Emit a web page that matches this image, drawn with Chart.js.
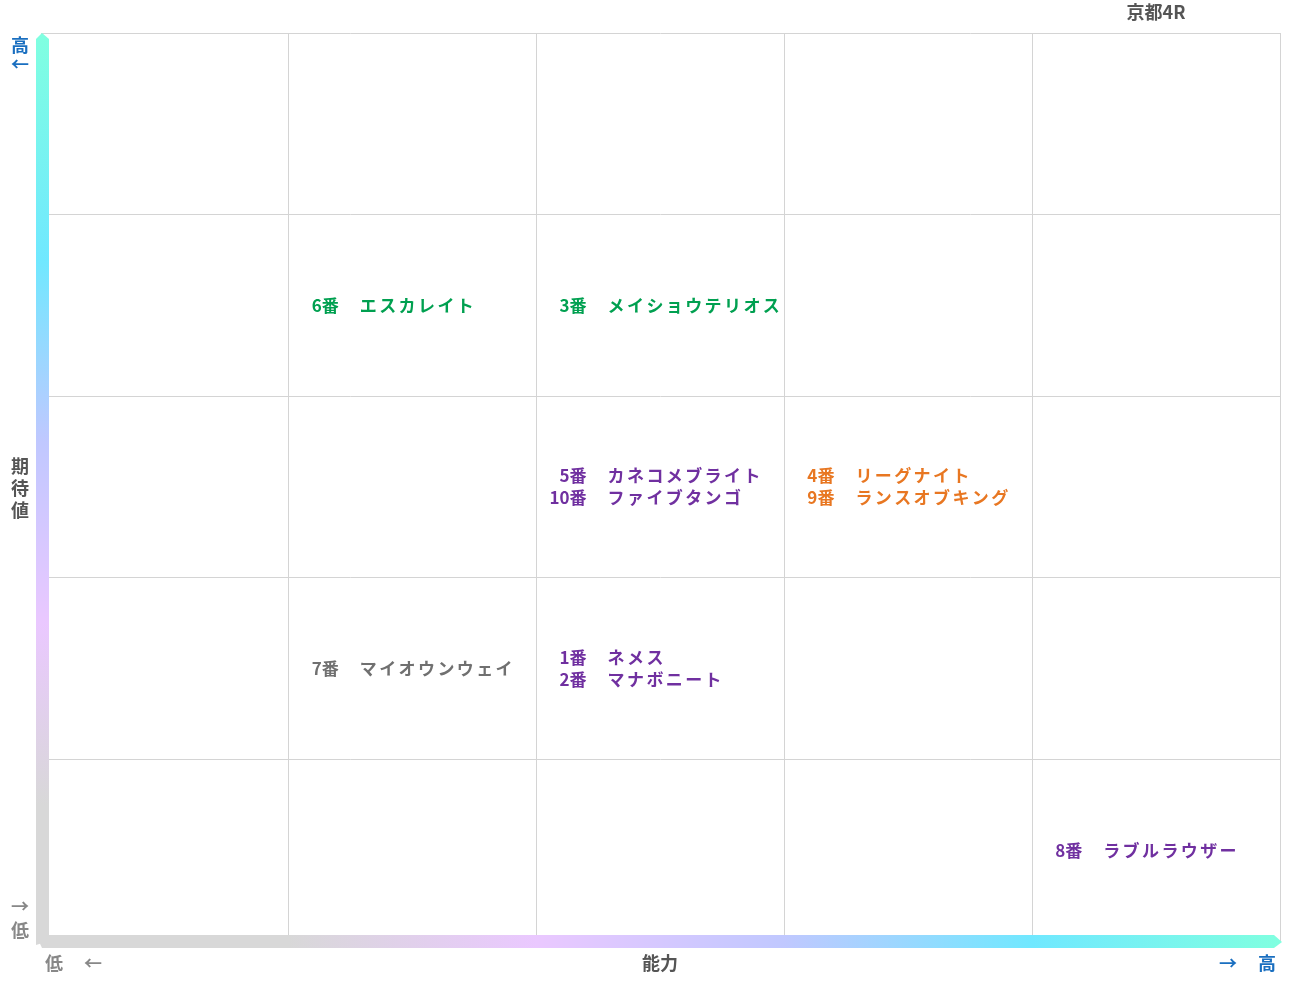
<!DOCTYPE html>
<html><head><meta charset="utf-8">
<script src="https://cdn.jsdelivr.net/npm/chart.js@4"></script>
<style>html,body{margin:0;padding:0;background:#fff}</style>
</head><body>
<canvas id="c" width="1291" height="983"></canvas>
<script>
const horseNums = ['6番','3番','5番','10番','4番','9番','7番','1番','2番','8番'];
const horseNames = ['エスカレイト','メイショウテリオス','カネコメブライト','ファイブタンゴ','リーグナイト','ランスオブキング','マイオウンウェイ','ネメス','マナボニート','ラブルラウザー'];
const abilityCol = [1,2,2,2,3,3,1,2,2,4];
const expectRow = [3,3,2,2,2,2,1,1,1,0];
const labelColors = ['#00a050','#00a050','#7030a0','#7030a0','#e87722','#e87722','#707070','#7030a0','#7030a0','#7030a0'];
const title = '京都4R';

const F = '"Noto Sans CJK JP", sans-serif';
const labelPlugin = {
  id:'labels',
  afterDatasetsDraw(chart){
    const {ctx, chartArea:a, scales:{x,y}} = chart;
    let gv = ctx.createLinearGradient(0,a.top,0,a.bottom);
    gv.addColorStop(0,'#80ffe0');gv.addColorStop(0.25,'#70e8ff');gv.addColorStop(0.45,'#c0c8ff');
    gv.addColorStop(0.65,'#eac8ff');gv.addColorStop(0.85,'#d8d8d8');gv.addColorStop(1,'#d8d8d8');
    ctx.fillStyle=gv;
    ctx.beginPath();ctx.moveTo(36,a.bottom+4);ctx.lineTo(36,a.top+6);ctx.lineTo(42,a.top);ctx.lineTo(49,a.top+6);ctx.lineTo(49,a.bottom);ctx.closePath();ctx.fill();
    let gh = ctx.createLinearGradient(a.left,0,a.right,0);
    gh.addColorStop(0,'#d8d8d8');gh.addColorStop(0.2,'#d8d8d8');gh.addColorStop(0.4,'#eac8ff');
    gh.addColorStop(0.6,'#c0c8ff');gh.addColorStop(0.8,'#70e8ff');gh.addColorStop(1,'#80ffe0');
    ctx.fillStyle=gh;
    ctx.beginPath();ctx.moveTo(36,a.bottom-6);ctx.lineTo(a.right-6,a.bottom-6);ctx.lineTo(a.right+2,a.bottom+1);ctx.lineTo(a.right-6,a.bottom+7);ctx.lineTo(42,a.bottom+7);ctx.closePath();ctx.fill();
    ctx.font='bold 17px '+F; ctx.textBaseline='middle';
    const groups={};
    abilityCol.forEach((c,i)=>{const k=c+'_'+expectRow[i];(groups[k]=groups[k]||[]).push(i);});
    Object.values(groups).forEach(g=>{
      g.forEach((i,j)=>{
        const left=x.getPixelForValue(abilityCol[i]);
        const cy=(y.getPixelForValue(expectRow[i])+y.getPixelForValue(expectRow[i]+1))/2;
        const ty=cy+(j-(g.length-1)/2)*22;
        ctx.fillStyle=labelColors[i];
        ctx.letterSpacing='0px';
        ctx.textAlign='right';ctx.fillText(horseNums[i],left+50,ty);
        ctx.letterSpacing='2.4px';
        ctx.textAlign='left';ctx.fillText(horseNames[i],left+71,ty);
      });
    });
    ctx.letterSpacing='0px';
    ctx.font='bold 18px '+F;ctx.textAlign='center';
    ctx.fillStyle='#1a6fc0';ctx.fillText('高',20,45);ctx.fillText('←',20,64);
    ctx.fillText('→',1228,963);ctx.fillText('高',1267,963);
    ctx.fillStyle='#888';ctx.fillText('低',20,930);ctx.fillText('→',20,906);
    ctx.fillText('低',54,963);ctx.fillText('←',93,963);
    ctx.fillStyle='#555';ctx.fillText('能力',660,963);
    ['期','待','値'].forEach((t,i)=>ctx.fillText(t,20,466+i*22));
    ctx.fillText(title,1156,12);
  }
};
new Chart(document.getElementById('c'),{
  type:'scatter',
  data:{datasets:[{data:abilityCol.map((c,i)=>({x:c,y:expectRow[i]})),pointRadius:0}]},
  options:{responsive:false,animation:false,
    layout:{padding:{left:41,top:33,right:11,bottom:42}},
    plugins:{legend:{display:false},tooltip:{enabled:false}},
    scales:{
      x:{min:0,max:5,ticks:{display:false,stepSize:1},grid:{color:'#d4d4d4',drawTicks:false},border:{display:false}},
      y:{min:0,max:5,ticks:{display:false,stepSize:1},grid:{color:'#d4d4d4',drawTicks:false},border:{display:false}}
    }},
  plugins:[labelPlugin]
});
</script>
</body></html>
